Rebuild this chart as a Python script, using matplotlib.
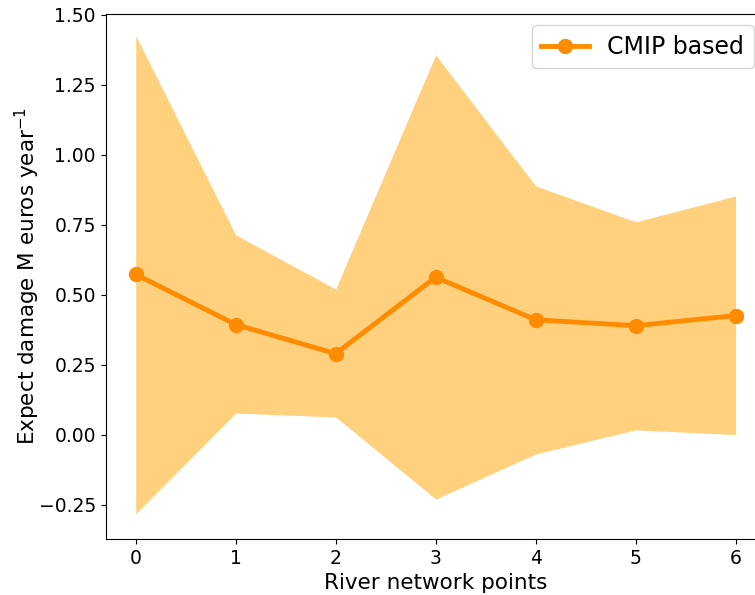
import numpy as np
import matplotlib
matplotlib.use('Agg')
import matplotlib.pyplot as plt

points = [0, 1, 2, 3, 4, 5, 6]
mean_damage = [0.572, 0.393, 0.289, 0.562, 0.410, 0.389, 0.425]
upper_b = [1.425, 0.713, 0.520, 1.356, 0.888, 0.760, 0.852]
lower_b = [-0.283, 0.077, 0.063, -0.230, -0.069, 0.017, 0.000]

fig = plt.figure(figsize=(7.55, 5.95), dpi=100)
ax = fig.add_axes([0.14, 0.094, 0.874, 0.883])

ax.fill_between(points, lower_b, upper_b, color='orange', alpha=0.5, linewidth=0)
ax.plot(points, mean_damage, color='darkorange', marker='o', linewidth=3.5,
        markersize=10, label='CMIP based')

ax.set_xlim(-0.3, 6.3)
ax.set_ylim(-0.373, 1.503)
ax.set_yticks([-0.25, 0.0, 0.25, 0.5, 0.75, 1.0, 1.25, 1.5])
ax.set_xticks(points)
ax.tick_params(labelsize=13.5)

ax.set_xlabel('River network points', fontsize=15.5)
ax.set_ylabel('Expect damage M euros year$^{-1}$', fontsize=15.5, labelpad=-2)
ax.legend(loc='upper right', fontsize=17)

plt.savefig('out.png', dpi=100)
